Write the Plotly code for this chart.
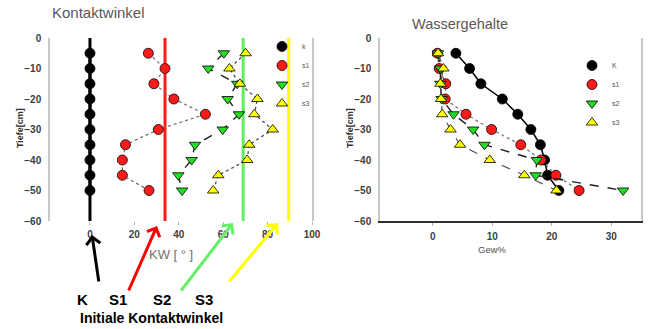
import plotly.graph_objects as go

# ---------------- data ----------------
depth = [-5, -10, -15, -20, -25, -30, -35, -40, -45, -50]

# Kontaktwinkel (KW, degrees)
kw_k = [0, 0, 0, 0, 0, 0, 0, 0, 0, 0]
kw_s1 = [26.3, 33.8, 28.8, 37.8, 52.0, 30.8, 16.0, 14.6, 14.6, 26.6]
kw_s2 = [60.3, 53.3, 66.3, 62.0, 67.1, 59.8, 47.3, 45.8, 39.8, 41.5]
kw_s3 = [70.1, 62.8, 67.5, 75.4, 74.0, 82.3, 71.7, 70.8, 57.8, 55.5]

# initiale Kontaktwinkel (vertical reference lines)
init_names = ["K", "S1", "S2", "S3"]
init_kw = [0, 33.8, 69.0, 89.5]
line_depth = [0, -60]

# Wassergehalte (Gew%)
wg_k = [3.9, 6.2, 8.1, 11.7, 14.3, 16.5, 18.1, 18.8, 19.3, 21.2]
wg_s1 = [0.8, 1.1, 2.2, 2.1, 5.6, 9.9, 14.8, 18.2, 20.7, 24.6]
wg_s2 = [0.9, 1.3, 1.3, 1.5, 3.5, 6.8, 8.7, 17.5, 17.3, 32.0]
wg_s3 = [0.9, 1.8, 1.3, 1.4, 1.6, 3.0, 4.6, 9.6, 15.4, 20.8]

# ---------------- figure ----------------
W, H = 650, 329
def px(x):
    return x / W
def py(y):
    return 1 - y / H

fig = go.Figure()

GREEN = "#5ef05e"
RED = "#ff1a1a"
YELLOW = "#ffff00"
ref_colors = ["#000000", RED, GREEN, YELLOW]

for name, xv, c in zip(init_names, init_kw, ref_colors):
    fig.add_trace(go.Scatter(x=[xv, xv], y=line_depth, mode="lines",
                             line=dict(color=c, width=3), showlegend=False,
                             hoverinfo="skip", xaxis="x", yaxis="y"))

def series(x, name, color, symbol, dash, lcolor, lwidth, xa, ya, legend):
    fig.add_trace(go.Scatter(
        x=x, y=depth, mode="lines", showlegend=False, hoverinfo="skip",
        line=dict(color=lcolor, width=lwidth, dash=dash), xaxis=xa, yaxis=ya))
    fig.add_trace(go.Scatter(
        x=x, y=depth, name=name, mode="markers",
        marker=dict(color=color, symbol=symbol, size=10,
                    line=dict(color="#000000", width=0.8)),
        xaxis=xa, yaxis=ya, legend=legend))

series(kw_k, "k", "#000000", "circle", "solid", "#000000", 3, "x", "y", "legend")
series(kw_s1, "s1", RED, "circle", "dot", "#707070", 1.2, "x", "y", "legend")
series(kw_s2, "s2", "#22dd22", "triangle-down", "dash", "#202020", 1.4, "x", "y", "legend")
series(kw_s3, "s3", YELLOW, "triangle-up", "dot", "#505050", 1.3, "x", "y", "legend")

series(wg_k, "K", "#000000", "circle", "solid", "#000000", 1.5, "x2", "y2", "legend2")
series(wg_s1, "s1", RED, "circle", "dot", "#707070", 1.2, "x2", "y2", "legend2")
series(wg_s2, "s2", "#22dd22", "triangle-down", "dash", "#202020", 1.4, "x2", "y2", "legend2")
series(wg_s3, "s3", YELLOW, "triangle-up", "dash", "#505050", 1.2, "x2", "y2", "legend2")

tickfont = dict(family="Liberation Sans", size=10, color="#404040", weight="bold")
ydom = [py(221), py(38)]

fig.update_layout(
    width=W, height=H, autosize=False,
    margin=dict(l=0, r=0, t=0, b=0, pad=0, autoexpand=False),
    paper_bgcolor="white", plot_bgcolor="white",
    font=dict(family="Liberation Sans"),
    xaxis=dict(domain=[px(50), px(312)], range=[-18, 100], tickvals=[0, 20, 40, 60, 80, 100],
               showgrid=False, zeroline=False, showline=False, ticks="outside", ticklen=3,
               tickcolor="#b0b0b0", tickfont=tickfont, ticklabelstandoff=1, anchor="y",
               automargin=False),
    yaxis=dict(domain=ydom, range=[-60, 0], tickvals=[0, -10, -20, -30, -40, -50, -60],
               showgrid=False, zeroline=False, showline=True, mirror=True, linecolor="#c8c8c8",
               linewidth=1.5, ticks="", tickfont=tickfont, ticklabelstandoff=5, anchor="x",
               automargin=False),
    xaxis2=dict(domain=[px(380), px(641)], range=[-8.85, 35], tickvals=[0, 10, 20, 30],
                showgrid=False, zeroline=False, showline=True, linecolor="#303030", linewidth=1.5,
                ticks="outside", ticklen=3, tickcolor="#b0b0b0", tickfont=tickfont,
                ticklabelstandoff=2, anchor="y2", automargin=False),
    yaxis2=dict(domain=ydom, range=[-60, 0], tickvals=[0, -10, -20, -30, -40, -50, -60],
                showgrid=False, zeroline=False, showline=True, mirror=True, linecolor="#c8c8c8",
                linewidth=1.5, ticks="", tickfont=tickfont, ticklabelstandoff=5, anchor="x2",
                automargin=False),
    legend=dict(x=px(262), y=py(32), xanchor="left", yanchor="top", bgcolor="rgba(0,0,0,0)",
                font=dict(size=7, color="#555555"), itemsizing="trace", tracegroupgap=0),
    legend2=dict(x=px(572), y=py(51), xanchor="left", yanchor="top", bgcolor="rgba(0,0,0,0)",
                 font=dict(size=7, color="#555555"), itemsizing="trace", tracegroupgap=0),
)

ann = []
ann.append(dict(text="Kontaktwinkel", x=px(50), y=py(13), xref="paper", yref="paper",
                xanchor="left", yanchor="middle", showarrow=False,
                font=dict(size=15, color="#595959")))
ann.append(dict(text="Wassergehalte", x=px(410), y=py(24), xref="paper", yref="paper",
                xanchor="left", yanchor="middle", showarrow=False,
                font=dict(size=14.5, color="#595959")))
ann.append(dict(text="KW [ ° ]", x=px(171), y=py(254), xref="paper", yref="paper",
                xanchor="center", yanchor="middle", showarrow=False,
                font=dict(size=13, color="#707070")))
ann.append(dict(text="Gew%", x=px(492), y=py(249), xref="paper", yref="paper",
                xanchor="center", yanchor="middle", showarrow=False,
                font=dict(size=9.5, color="#505050")))
for xx in (20, 350):
    ann.append(dict(text="Tiefe[cm]", x=px(xx), y=py(128), xref="paper", yref="paper",
                    xanchor="center", yanchor="middle", showarrow=False, textangle=-90,
                    font=dict(size=9, color="#303030", weight="bold")))

# arrows: (head_x, head_y, tail_x, tail_y)
arrows = [(92, 235, 99, 283), (157, 226, 128, 292), (233, 223, 180, 292), (278, 223, 228, 283)]
arrow_colors = ["#000000", "#ff0000", "#66ee66", "#ffff00"]
for (hx, hy, tx, ty), c in zip(arrows, arrow_colors):
    ann.append(dict(text="", x=px(hx), y=py(hy), xref="paper", yref="paper",
                    ax=tx - hx, ay=ty - hy, axref="pixel", ayref="pixel",
                    showarrow=True, arrowhead=4, arrowsize=0.9, arrowwidth=3, arrowcolor=c))

for lbl, xc in zip(init_names, [82, 118, 162, 204]):
    ann.append(dict(text=lbl, x=px(xc), y=py(299), xref="paper", yref="paper",
                    xanchor="center", yanchor="middle", showarrow=False,
                    font=dict(size=15, color="#000000", weight="bold")))
ann.append(dict(text="Initiale Kontaktwinkel", x=px(78), y=py(318), xref="paper", yref="paper",
                xanchor="left", yanchor="middle", showarrow=False,
                font=dict(size=14, color="#000000", weight="bold")))

fig.update_layout(annotations=ann)

post = (
    "document.documentElement.style.overflow='hidden';"
    "document.body.style.margin='0';"
    "document.body.style.padding='0';"
    "document.body.style.overflow='hidden';"
)
fig.write_html("out.html", config={"displayModeBar": False}, post_script=post)
